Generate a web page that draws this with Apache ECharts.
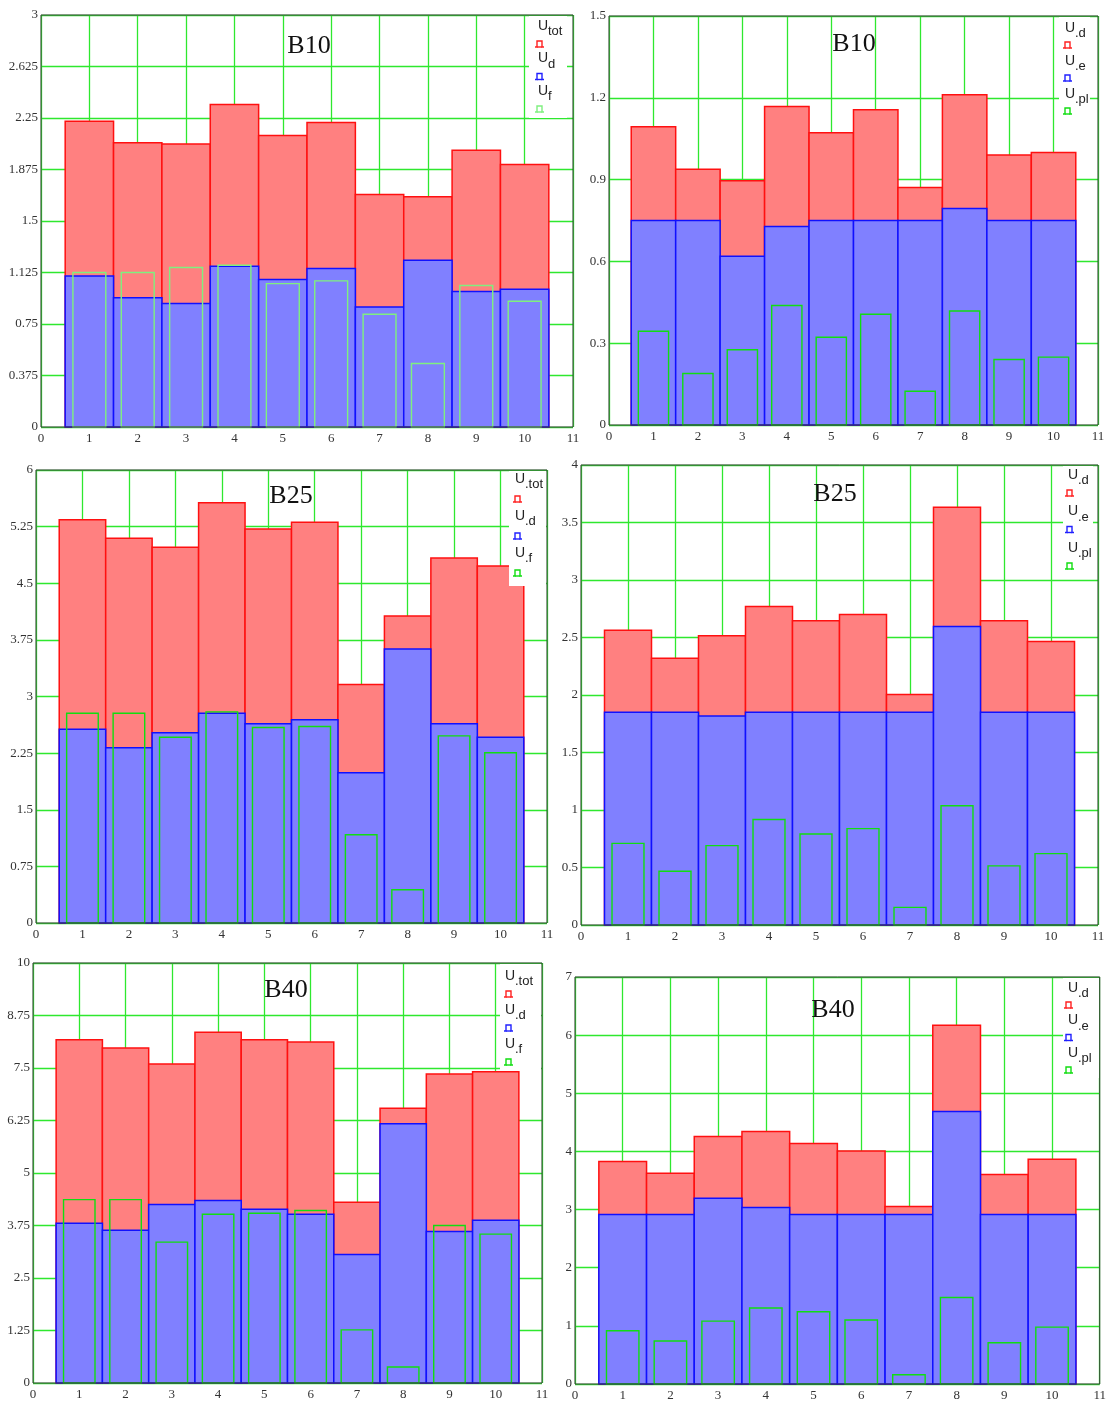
<!DOCTYPE html>
<html><head><meta charset="utf-8">
<script src="https://cdn.jsdelivr.net/npm/echarts@6/dist/echarts.min.js"></script>
<style>html,body{margin:0;padding:0;background:#fff}#c{width:1109px;height:1405px}</style>
</head><body><div id="c"></div>
<script>
// ---------- data ----------
const categories = [1, 2, 3, 4, 5, 6, 7, 8, 9, 10];
const xTicks = [0, 1, 2, 3, 4, 5, 6, 7, 8, 9, 10, 11];

// B10 (left): U_tot, U_d, U_f
const b10L_tot = [2.227, 2.069, 2.060, 2.349, 2.123, 2.218, 1.693, 1.676, 2.016, 1.912];
const b10L_d   = [1.100, 0.942, 0.899, 1.171, 1.074, 1.154, 0.874, 1.214, 0.986, 1.003];
const b10L_f   = [1.125, 1.125, 1.161, 1.178, 1.044, 1.064, 0.821, 0.462, 1.030, 0.916];
// B10 (right): U.d, U.e, U.pl
const b10R_d  = [1.094, 0.938, 0.896, 1.168, 1.072, 1.156, 0.871, 1.211, 0.990, 0.999];
const b10R_e  = [0.750, 0.750, 0.619, 0.728, 0.750, 0.750, 0.750, 0.794, 0.750, 0.750];
const b10R_pl = [0.344, 0.189, 0.276, 0.438, 0.322, 0.406, 0.124, 0.418, 0.240, 0.249];
// B25 (left)
const b25L_tot = [5.342, 5.095, 4.976, 5.567, 5.218, 5.307, 3.158, 4.067, 4.835, 4.729];
const b25L_d   = [2.567, 2.320, 2.519, 2.779, 2.638, 2.691, 1.989, 3.630, 2.638, 2.461];
const b25L_f   = [2.779, 2.779, 2.461, 2.797, 2.589, 2.603, 1.169, 0.441, 2.479, 2.254];
// B25 (right)
const b25R_d  = [2.562, 2.319, 2.516, 2.770, 2.645, 2.700, 2.004, 3.633, 2.645, 2.466];
const b25R_e  = [1.851, 1.851, 1.817, 1.851, 1.851, 1.851, 1.851, 2.596, 1.851, 1.851];
const b25R_pl = [0.710, 0.468, 0.690, 0.918, 0.791, 0.838, 0.153, 1.037, 0.514, 0.621];
// B40 (left)
const b40L_tot = [8.172, 7.975, 7.595, 8.354, 8.172, 8.117, 4.304, 6.543, 7.358, 7.413];
const b40L_d   = [3.805, 3.639, 4.248, 4.343, 4.138, 4.019, 3.062, 6.171, 3.608, 3.877];
const b40L_f   = [4.367, 4.367, 3.354, 4.019, 4.043, 4.106, 1.266, 0.380, 3.750, 3.544];
// B40 (right)
const b40R_d  = [3.826, 3.625, 4.256, 4.341, 4.135, 4.009, 3.053, 6.168, 3.602, 3.866];
const b40R_e  = [2.915, 2.915, 3.196, 3.035, 2.915, 2.915, 2.915, 4.685, 2.915, 2.915];
const b40R_pl = [0.916, 0.739, 1.082, 1.306, 1.243, 1.100, 0.160, 1.489, 0.710, 0.979];

// y tick labels
const yTicksB10L = [0, 0.375, 0.75, 1.125, 1.5, 1.875, 2.25, 2.625, 3];
const yTicksB10R = [0, 0.3, 0.6, 0.9, 1.2, 1.5];
const yTicksB25L = [0, 0.75, 1.5, 2.25, 3, 3.75, 4.5, 5.25, 6];
const yTicksB25R = [0, 0.5, 1, 1.5, 2, 2.5, 3, 3.5, 4];
const yTicksB40L = [0, 1.25, 2.5, 3.75, 5, 6.25, 7.5, 8.75, 10];
const yTicksB40R = [0, 1, 2, 3, 4, 5, 6, 7];

const titles = ['B10', 'B10', 'B25', 'B25', 'B40', 'B40'];
const legendLeft  = [['U', 'tot'], ['U', 'd'], ['U', 'f']];
const legendLeft2 = [['U', '.tot'], ['U', '.d'], ['U', '.f']];
const legendRight = [['U', '.d'], ['U', '.e'], ['U', '.pl']];

// ---------- layout ----------
const panels = [
  {g: [41, 15, 532, 412], ticks: yTicksB10L, s: [b10L_tot, b10L_d, b10L_f], title: titles[0], t: [309, 46], green: '#7ff07f', names: legendLeft,
   leg: {ux: 538, uy: 21, sp: 32.5, gx: 535, gdy: 20, box: [529, 16, 38, 102]}},
  {g: [609, 16, 489, 409], ticks: yTicksB10R, s: [b10R_d, b10R_e, b10R_pl], title: titles[1], t: [854, 44], green: '#11dd11', names: legendRight,
   leg: {ux: 1065, uy: 23, sp: 33, gx: 1063, gdy: 19, box: [1059, 17, 31, 100]}},
  {g: [36, 470, 511, 453], ticks: yTicksB25L, s: [b25L_tot, b25L_d, b25L_f], title: titles[2], t: [291, 496], green: '#11dd11', names: legendLeft2,
   leg: {ux: 515, uy: 474, sp: 37, gx: 513, gdy: 22, box: [509, 471, 37, 115]}},
  {g: [581, 465, 517, 460], ticks: yTicksB25R, s: [b25R_d, b25R_e, b25R_pl], title: titles[3], t: [835, 494], green: '#11dd11', names: legendRight,
   leg: {ux: 1068, uy: 470, sp: 36.5, gx: 1065, gdy: 20, box: [1063, 466, 30, 110]}},
  {g: [33, 963, 509, 420], ticks: yTicksB40L, s: [b40L_tot, b40L_d, b40L_f], title: titles[4], t: [286, 990], green: '#11dd11', names: legendLeft2,
   leg: {ux: 505, uy: 971, sp: 34, gx: 504, gdy: 20, box: [500, 964, 41, 106]}},
  {g: [575, 977, 525, 407], ticks: yTicksB40R, s: [b40R_d, b40R_e, b40R_pl], title: titles[5], t: [833, 1010], green: '#11dd11', names: legendRight,
   leg: {ux: 1068, uy: 983, sp: 32.5, gx: 1064, gdy: 19, box: [1063, 978, 36, 100]}}
];

const GRIDLINE = '#2ee82e';
const LABEL_FONT = '"Liberation Serif", "Times New Roman", serif';

function barRenderer(fill, stroke, lw, half) {
  return function (params, api) {
    const x = api.value(0), y = api.value(1);
    const p0 = api.coord([x - half, y]);
    const p1 = api.coord([x + half, 0]);
    return {
      type: 'rect',
      shape: {x: p0[0], y: p0[1], width: p1[0] - p0[0], height: p1[1] - p0[1]},
      style: {fill: fill, stroke: stroke, lineWidth: lw}
    };
  };
}

const grid = [], xAxis = [], yAxis = [], series = [], graphic = [];
panels.forEach(function (p, i) {
  grid.push({left: p.g[0], top: p.g[1], width: p.g[2], height: p.g[3], show: true,
    borderColor: '#3a3a3a', borderWidth: 1, backgroundColor: 'transparent', z: 5});
  xAxis.push({gridIndex: i, type: 'value', min: xTicks[0], max: xTicks[xTicks.length - 1], interval: 1,
    axisLine: {show: false}, axisTick: {show: false},
    splitLine: {show: true, lineStyle: {color: GRIDLINE, width: 1.3}},
    axisLabel: {fontFamily: LABEL_FONT, fontSize: 13, color: '#333', margin: 5}});
  const tk = p.ticks;
  yAxis.push({gridIndex: i, type: 'value', min: tk[0], max: tk[tk.length - 1], interval: tk[1] - tk[0],
    axisLine: {show: false}, axisTick: {show: false},
    splitLine: {show: true, lineStyle: {color: GRIDLINE, width: 1.3}},
    axisLabel: {fontFamily: LABEL_FONT, fontSize: 13, color: '#333', margin: 3}});
  const specs = [
    {fill: '#ff8080', stroke: '#ff1010', lw: 1.5, half: 0.5},
    {fill: '#8080ff', stroke: '#1010ff', lw: 1.5, half: 0.5},
    {fill: 'none', stroke: p.green, lw: 1.4, half: 0.34}
  ];
  p.s.forEach(function (vals, k) {
    series.push({type: 'custom', xAxisIndex: i, yAxisIndex: i, z: 2 + k, clip: false,
      renderItem: barRenderer(specs[k].fill, specs[k].stroke, specs[k].lw, specs[k].half),
      encode: {x: 0, y: 1},
      data: categories.map(function (c, j) { return [c, vals[j]]; })});
  });
  // title
  graphic.push({type: 'text', x: p.t[0], y: p.t[1], z: 50,
    style: {text: p.title, font: '26px ' + LABEL_FONT, fill: '#111', align: 'center', verticalAlign: 'middle'}});
  // legend
  const L = p.leg;
  graphic.push({type: 'rect', z: 60, shape: {x: L.box[0], y: L.box[1], width: L.box[2], height: L.box[3]},
    style: {fill: '#ffffff'}});
  const colors = ['#ff2020', '#2020ff', p.green];
  p.names.forEach(function (nm, k) {
    const ty = L.uy + k * L.sp;
    graphic.push({type: 'text', z: 61, x: L.ux, y: ty - 2,
      style: {text: nm[0], font: '14px "Liberation Sans", Arial, sans-serif', fill: '#222', align: 'left', verticalAlign: 'top'}});
    graphic.push({type: 'text', z: 61, x: L.ux + 10, y: ty + 4,
      style: {text: nm[1], font: '13px "Liberation Sans", Arial, sans-serif', fill: '#222', align: 'left', verticalAlign: 'top'}});
    const gy = ty + L.gdy;
    graphic.push({type: 'polyline', z: 61, shape: {points: [[L.gx, gy + 6], [L.gx + 2, gy + 6], [L.gx + 2, gy], [L.gx + 7, gy], [L.gx + 7, gy + 6], [L.gx + 9, gy + 6]]},
      style: {stroke: colors[k], lineWidth: 1.4, fill: 'none'}});
    graphic.push({type: 'line', z: 61, shape: {x1: L.gx + 2, y1: gy + 6, x2: L.gx + 7, y2: gy + 6},
      style: {stroke: colors[k], lineWidth: 1.4}});
  });
});

const chart = echarts.init(document.getElementById('c'), null, {renderer: 'canvas'});
chart.setOption({
  animation: false,
  backgroundColor: '#ffffff',
  grid: grid, xAxis: xAxis, yAxis: yAxis, series: series, graphic: graphic
});
</script></body></html>
